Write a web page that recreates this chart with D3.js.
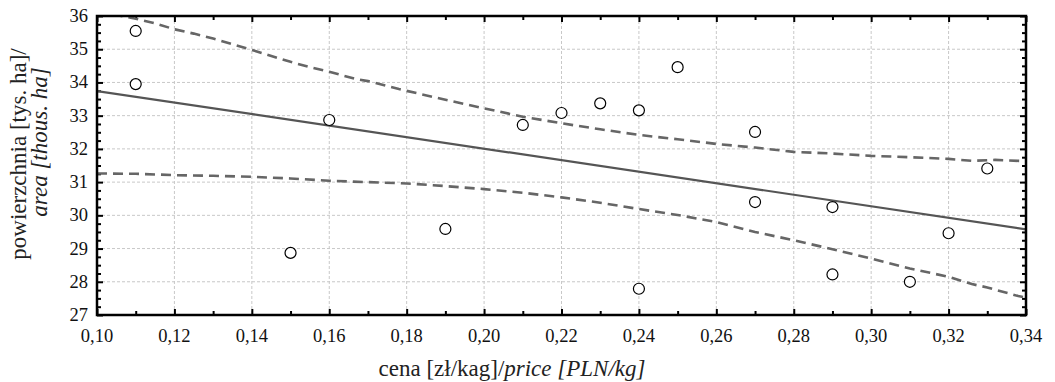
<!DOCTYPE html>
<html><head><meta charset="utf-8">
<script src="https://cdn.jsdelivr.net/npm/d3@7"></script>
<style>body{margin:0;background:#fff}</style>
</head><body><svg id="c" width="1055" height="382"></svg>
<script>
const priceX = [0.11,0.11,0.15,0.16,0.19,0.21,0.22,0.23,0.24,0.24,0.25,0.27,0.27,0.29,0.29,0.31,0.32,0.33];
const areaY  = [35.55,33.95,28.87,32.87,29.59,32.72,33.08,33.37,33.16,27.79,34.46,32.51,30.40,30.25,28.22,28.00,29.46,31.41];
const regX = [0.10,0.34];
const regY = [33.74,29.58];
const upperX = [0.10,0.105,0.11,0.115,0.12,0.125,0.13,0.14,0.15,0.155,0.16,0.167,0.17,0.178,0.187,0.20,0.21,0.22,0.23,0.24,0.25,0.26,0.27,0.28,0.29,0.30,0.31,0.32,0.326,0.332,0.34];
const upperY = [36.15,36.03,35.92,35.78,35.6,35.47,35.32,34.98,34.62,34.46,34.32,34.1,34.04,33.8,33.56,33.22,32.97,32.77,32.59,32.42,32.29,32.15,32.04,31.91,31.86,31.79,31.75,31.70,31.64,31.67,31.63];
const lowerX = [0.10,0.11,0.12,0.13,0.14,0.15,0.16,0.17,0.18,0.19,0.20,0.21,0.22,0.23,0.24,0.25,0.26,0.27,0.28,0.29,0.30,0.31,0.32,0.326,0.33,0.338,0.34];
const lowerY = [31.26,31.25,31.21,31.19,31.16,31.11,31.04,31.0,30.96,30.88,30.79,30.68,30.54,30.38,30.19,30.01,29.80,29.50,29.25,28.98,28.70,28.40,28.15,27.93,27.83,27.57,27.52];
const xTicks = [0.10,0.12,0.14,0.16,0.18,0.20,0.22,0.24,0.26,0.28,0.30,0.32,0.34];
const yTicks = [27,28,29,30,31,32,33,34,35,36];
const xTitleA = "cena [zł/kag]/", xTitleB = "price [PLN/kg]";
const yTitleA = "powierzchnia [tys. ha]/", yTitleB = "area [thous. ha]";

const FONT = "'Liberation Serif', 'Times New Roman', Tinos, monospace";
const L=97, R=1026, T=16, B=315;
const svg = d3.select("#c");
const x = d3.scaleLinear().domain([0.10,0.34]).range([L,R]);
const y = d3.scaleLinear().domain([27,36]).range([B,T]);
const fmt = d => d.toFixed(2).replace(".",",");

svg.append("defs").append("clipPath").attr("id","clip").append("rect")
  .attr("x",L).attr("y",T).attr("width",R-L).attr("height",B-T);

// grid
const g = svg.append("g");
g.selectAll(".gx").data(xTicks.slice(1,-1)).join("line")
  .attr("x1",d=>x(d)).attr("x2",d=>x(d)).attr("y1",T).attr("y2",B)
  .attr("stroke","#c8c8c8").attr("stroke-width",1).attr("stroke-dasharray","3,2");
g.selectAll(".gy").data(yTicks.slice(1,-1)).join("line")
  .attr("y1",d=>y(d)).attr("y2",d=>y(d)).attr("x1",L).attr("x2",R)
  .attr("stroke","#c8c8c8").attr("stroke-width",1).attr("stroke-dasharray","3,2");

// axes with inward ticks (tick marks only)
const xMinor = d3.range(0.11,0.34,0.02);
const yMinor = d3.range(27,36,0.25).filter(v=>Math.abs(v-Math.round(v))>1e-6);
function addAxis(axisFn, scale, vals, size, tr){
  const a = svg.append("g").attr("transform",tr).call(axisFn(scale).tickValues(vals).tickSize(size).tickFormat(""));
  a.select(".domain").remove();
  a.selectAll("text").remove();
  a.selectAll("line").attr("stroke","#000").attr("stroke-width",2);
}
addAxis(d3.axisTop, x, xTicks, 6, `translate(0,${B})`);
addAxis(d3.axisTop, x, xMinor, 4, `translate(0,${B})`);
addAxis(d3.axisBottom, x, xTicks, 6, `translate(0,${T})`);
addAxis(d3.axisBottom, x, xMinor, 4, `translate(0,${T})`);
addAxis(d3.axisRight, y, yTicks, 6, `translate(${L},0)`);
addAxis(d3.axisRight, y, yMinor, 4, `translate(${L},0)`);
addAxis(d3.axisLeft, y, yTicks, 6, `translate(${R},0)`);
addAxis(d3.axisLeft, y, yMinor, 4, `translate(${R},0)`);

// tick labels
svg.append("g").selectAll("text").data(xTicks).join("text")
  .style("font-family",FONT).style("font-size","18.5px")
  .attr("x",d=>x(d)).attr("y",342).attr("text-anchor","middle")
  .attr("fill","#111").text(fmt);
svg.append("g").selectAll("text").data(yTicks).join("text")
  .style("font-family",FONT).style("font-size","18.5px")
  .attr("x",88).attr("y",d=>y(d)+6).attr("text-anchor","end")
  .attr("fill","#111").text(d=>d);

// bands and regression
const pg = svg.append("g").attr("clip-path","url(#clip)");
const line = d3.line().x(d=>x(d[0])).y(d=>y(d[1]));
pg.append("path").datum(upperX.map((v,i)=>[v,upperY[i]])).attr("d",line)
  .attr("fill","none").attr("stroke","#666").attr("stroke-width",2.6).attr("stroke-dasharray","10,6");
pg.append("path").datum(lowerX.map((v,i)=>[v,lowerY[i]])).attr("d",line)
  .attr("fill","none").attr("stroke","#666").attr("stroke-width",2.6).attr("stroke-dasharray","10,6");
pg.append("path").datum(regX.map((v,i)=>[v,regY[i]])).attr("d",line)
  .attr("fill","none").attr("stroke","#555").attr("stroke-width",2.2);

// points
svg.append("g").selectAll("circle").data(priceX.map((v,i)=>[v,areaY[i]])).join("circle")
  .attr("cx",d=>x(d[0])).attr("cy",d=>y(d[1])).attr("r",5.5)
  .attr("fill","#fff").attr("stroke","#000").attr("stroke-width",1.2);

// frame
svg.append("rect").attr("x",L).attr("y",T).attr("width",R-L).attr("height",B-T)
  .attr("fill","none").attr("stroke","#000").attr("stroke-width",2.5);

// titles
const xt = svg.append("text").style("font-family",FONT).style("font-size","23px")
  .attr("x",512).attr("y",376).attr("text-anchor","middle").attr("fill","#222");
xt.append("tspan").text(xTitleA);
xt.append("tspan").style("font-style","italic").style("font-family",FONT).text(xTitleB);
svg.append("g").attr("transform","translate(0,154) rotate(-90)")
  .append("text").style("font-family",FONT).style("font-size","23px")
  .attr("x",0).attr("y",26).attr("text-anchor","middle").attr("fill","#222").text(yTitleA);
svg.append("g").attr("transform","translate(0,142) rotate(-90)")
  .append("text").style("font-family",FONT).style("font-size","23px").style("font-style","italic")
  .attr("x",0).attr("y",47).attr("text-anchor","middle").attr("fill","#222").text(yTitleB);
</script></body></html>
